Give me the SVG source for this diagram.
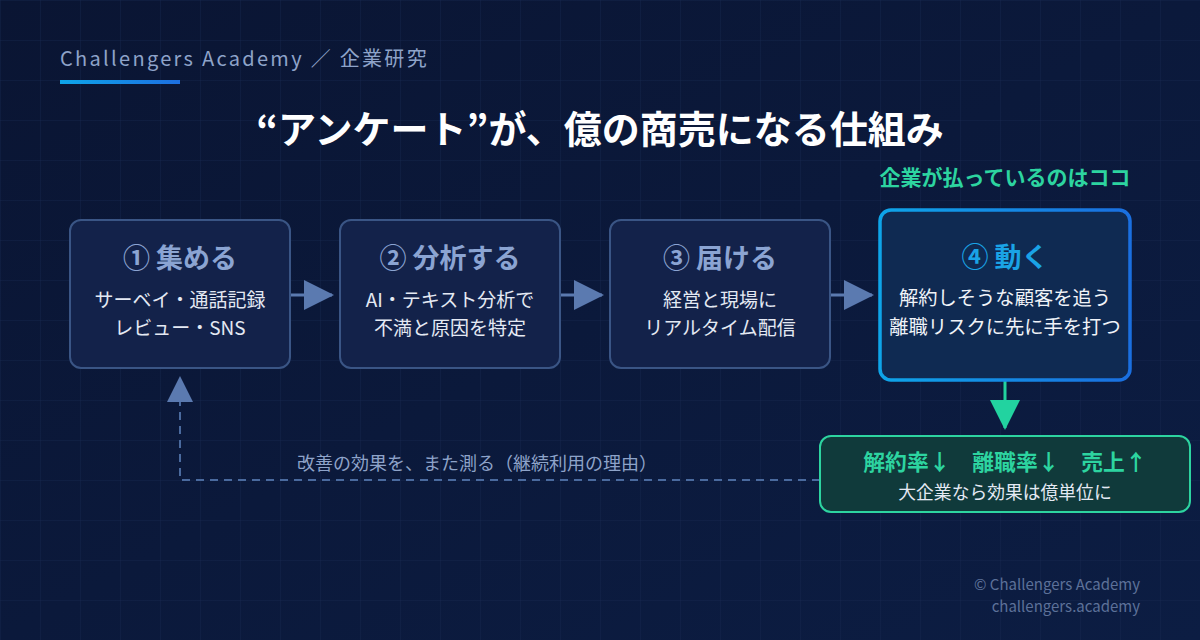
<svg xmlns="http://www.w3.org/2000/svg" width="1200" height="640" viewBox="0 0 1200 640">
<defs>
  <linearGradient id="bg" x1="0" y1="0" x2="1" y2="1">
    <stop offset="0" stop-color="#0a1533"/>
    <stop offset="1" stop-color="#0c1d43"/>
  </linearGradient>
  <pattern id="grid" width="40" height="40" patternUnits="userSpaceOnUse">
    <path d="M40 0H0V40" fill="none" stroke="#1a2a52" stroke-width="1" opacity="0.7"/>
  </pattern>
  <linearGradient id="bar" x1="0" y1="0" x2="1" y2="0">
    <stop offset="0" stop-color="#0ea5e9"/>
    <stop offset="1" stop-color="#1d6fe0"/>
  </linearGradient>
  <linearGradient id="hl" x1="0" y1="0" x2="1" y2="0">
    <stop offset="0" stop-color="#0ea5e9"/>
    <stop offset="1" stop-color="#1a6fe0"/>
  </linearGradient>
  <marker id="ah" viewBox="0 0 30 30" refX="28" refY="15" markerWidth="30" markerHeight="30" markerUnits="userSpaceOnUse" orient="auto">
    <path d="M0 0L30 15L0 30Z" fill="#5b7ab0"/>
  </marker>
  <marker id="ahg" viewBox="0 0 30 30" refX="28" refY="15" markerWidth="30" markerHeight="30" markerUnits="userSpaceOnUse" orient="auto">
    <path d="M0 0L30 15L0 30Z" fill="#22d3a0"/>
  </marker>
  <marker id="ahd" viewBox="0 0 26 26" refX="24" refY="13" markerWidth="26" markerHeight="26" markerUnits="userSpaceOnUse" orient="auto">
    <path d="M0 0L26 13L0 26Z" fill="#5b7ab0"/>
  </marker>
</defs>
<style>
  text { font-family: "Noto Sans CJK JP", "Noto Sans", sans-serif; }
  .box { fill: #13224a; stroke: #3a5585; stroke-width: 2; }
  .bt { fill: #8ba4d2; font-size: 27px; font-weight: 700; text-anchor: middle; }
  .bd { fill: #e4e9f3; font-size: 19px; text-anchor: middle; }
  .conn { stroke: #5b7ab0; stroke-width: 3; fill: none; }
</style>
<rect width="1200" height="640" fill="url(#bg)"/>
<rect width="1200" height="640" fill="url(#grid)"/>

<g id="header">
  <text x="60" y="66" font-size="20" fill="#8ea3c9" letter-spacing="2.3">Challengers Academy ／ 企業研究</text>
  <rect x="60" y="80" width="120" height="4" fill="url(#bar)"/>
</g>
<g id="title">
  <text x="600" y="143" font-size="38" font-weight="700" fill="#ffffff" text-anchor="middle">“アンケート”が、億の商売になる仕組み</text>
</g>

<g id="connectors">
  <line class="conn" x1="291" y1="295" x2="332" y2="295" marker-end="url(#ah)"/>
  <line class="conn" x1="561" y1="295" x2="602" y2="295" marker-end="url(#ah)"/>
  <line class="conn" x1="831" y1="295" x2="872" y2="295" marker-end="url(#ah)"/>
  <line x1="1005" y1="381" x2="1005" y2="428" stroke="#22d3a0" stroke-width="3" marker-end="url(#ahg)"/>
  <path d="M820 480H180V378" fill="none" stroke="#4a6a9e" stroke-width="2" stroke-dasharray="8 6" marker-end="url(#ahd)"/>
  <text x="297" y="470" font-size="18" fill="#8ea3c9">改善の効果を、また測る（継続利用の理由）</text>
</g>

<g id="step1">
  <rect class="box" x="70" y="220" width="220" height="148" rx="11"/>
  <text class="bt" x="180" y="268">① 集める</text>
  <text class="bd" x="180" y="307">サーベイ・通話記録</text>
  <text class="bd" x="180" y="335">レビュー・SNS</text>
</g>
<g id="step2">
  <rect class="box" x="340" y="220" width="220" height="148" rx="11"/>
  <text class="bt" x="450" y="268">② 分析する</text>
  <text class="bd" x="450" y="307">AI・テキスト分析で</text>
  <text class="bd" x="450" y="335">不満と原因を特定</text>
</g>
<g id="step3">
  <rect class="box" x="610" y="220" width="220" height="148" rx="11"/>
  <text class="bt" x="720" y="268">③ 届ける</text>
  <text class="bd" x="720" y="307">経営と現場に</text>
  <text class="bd" x="720" y="335">リアルタイム配信</text>
</g>
<g id="step4">
  <text x="1005" y="185" font-size="21" font-weight="700" fill="#2dd4a0" text-anchor="middle">企業が払っているのはココ</text>
  <rect x="880" y="210" width="250" height="170" rx="11" fill="#0f2a52" stroke="url(#hl)" stroke-width="3.5"/>
  <text x="1005" y="267" font-size="27" font-weight="700" fill="#1aa3e6" text-anchor="middle">④ 動く</text>
  <text x="1005" y="305" font-size="19.3" fill="#f0f3f8" text-anchor="middle">解約しそうな顧客を追う</text>
  <text x="1005" y="334" font-size="19.3" fill="#f0f3f8" text-anchor="middle">離職リスクに先に手を打つ</text>
</g>
<g id="result">
  <rect x="820" y="436" width="370" height="76" rx="11" fill="#103a3b" stroke="#2dd4a0" stroke-width="2"/>
  <text x="1005" y="470" font-size="21.8" font-weight="700" fill="#2dd4a0" text-anchor="middle" xml:space="preserve">解約率↓　離職率↓　売上↑</text>
  <text x="1005" y="499" font-size="17.8" fill="#e4e9f3" text-anchor="middle">大企業なら効果は億単位に</text>
</g>
<g id="footer">
  <text x="1140" y="590" font-size="15" fill="#5d7199" text-anchor="end">© Challengers Academy</text>
  <text x="1140" y="612" font-size="15" fill="#5d7199" text-anchor="end">challengers.academy</text>
</g>
</svg>
